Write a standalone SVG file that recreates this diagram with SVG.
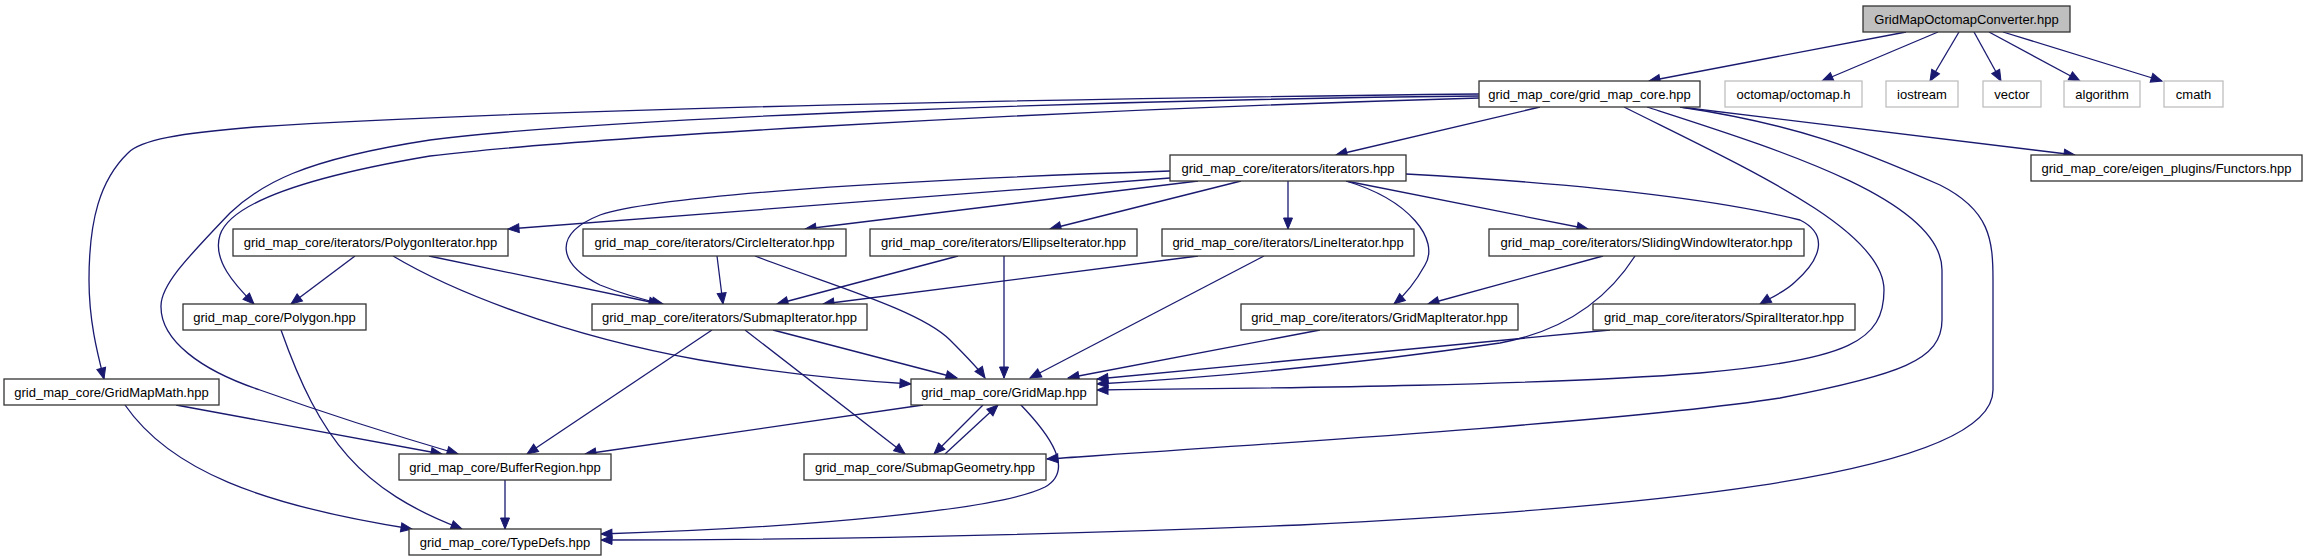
<svg xmlns="http://www.w3.org/2000/svg" width="2308" height="560" viewBox="0 0 2308 560">
<style>
.n rect{fill:#fff;stroke:#333;stroke-width:1.3}
.n.sys rect{stroke:#bfbfbf}
.n.root rect{fill:#bfbfbf}
.n text{font-family:"Liberation Sans",Arial,sans-serif;font-size:13px;fill:#000;text-anchor:middle}
#edges path{fill:none;stroke:#191970;stroke-width:1.3;marker-end:url(#ah)}
</style>
<defs>
<marker id="ah" markerUnits="userSpaceOnUse" markerWidth="12" markerHeight="10" refX="11" refY="4.5" orient="auto" overflow="visible">
<path d="M0,0 L11,4.5 L0,9 z" fill="#191970" stroke="#191970" stroke-width="1"/>
</marker>
</defs>
<rect width="2308" height="560" fill="#fff"/>
<g id="edges">
<path d="M1906,32 L1649,81"/>
<path d="M1938,32 L1822,81"/>
<path d="M1959,32 L1930,81"/>
<path d="M1974,32 L2001,81"/>
<path d="M1989,32 L2080,81"/>
<path d="M2003,32 L2162,81"/>
<path d="M1540,107 L1336,155"/>
<path d="M1680,107 L2075,155"/>
<path d="M1479,94 C1100,98 550,108 255,127 C180,133 140,140 128,153 C100,180 89,220 89,280 C89,320 97,352 104,379"/>
<path d="M1479,96 C1100,100 600,118 430,140 C300,160 260,185 230,213 C190,255 160,285 161,307 C161,340 200,370 260,390 C330,415 400,437 458,454"/>
<path d="M1479,98 C1000,112 560,140 430,156 C300,178 230,205 220,235 C212,260 235,285 254,304"/>
<path d="M1624,107 C1750,170 1884,230 1884,290 C1884,340 1850,360 1700,373 C1550,385 1300,388 1097,390"/>
<path d="M1647,107 C1780,150 1942,200 1942,270 L1942,320 C1942,360 1900,375 1780,398 C1640,420 1300,442 1047,459"/>
<path d="M1680,107 C1800,125 1860,150 1940,185 C1990,210 1993,240 1993,280 L1993,390 C1993,480 1600,510 1300,525 C1000,537 800,540 601,540"/>
<path d="M1170,178 L508,229"/>
<path d="M1198,181 L805,229"/>
<path d="M1241,181 L1050,229"/>
<path d="M1288,181 L1288,229"/>
<path d="M1346,181 L1588,229"/>
<path d="M1346,181 C1410,200 1440,240 1425,265 C1415,283 1405,295 1394,304"/>
<path d="M1406,174 C1550,182 1700,195 1800,220 C1830,235 1820,260 1795,282 C1785,292 1770,298 1760,304"/>
<path d="M1170,171 C900,180 660,195 600,215 C550,235 560,265 600,285 C620,293 640,299 663,304"/>
<path d="M355,256 L291,304"/>
<path d="M429,256 L660,304"/>
<path d="M393,256 C450,290 560,335 700,360 C790,375 860,381 911,384"/>
<path d="M717,256 L723,304"/>
<path d="M755,256 C830,285 920,310 950,340 C965,355 978,368 985,378"/>
<path d="M958,256 L777,304"/>
<path d="M1004,256 L1004,378"/>
<path d="M1198,256 L823,304"/>
<path d="M1264,256 L1030,378"/>
<path d="M1603,256 L1428,304"/>
<path d="M1320,330 L1068,378"/>
<path d="M1610,330 L1097,379"/>
<path d="M1635,256 C1610,295 1570,330 1500,343 C1350,365 1200,378 1097,384"/>
<path d="M773,330 L957,378"/>
<path d="M745,330 L905,454"/>
<path d="M712,330 L527,454"/>
<path d="M281,330 C320,440 360,490 462,529"/>
<path d="M125,405 C170,470 260,505 412,529"/>
<path d="M176,405 L442,454"/>
<path d="M923,405 L585,454"/>
<path d="M983,405 L934,454"/>
<path d="M945,454 L998,405"/>
<path d="M1020,404 C1050,435 1075,470 1045,487 C1000,510 800,528 601,534"/>
<path d="M505,480 L505,529"/>
</g>
<g id="n0" class="n root"><rect x="1863" y="6" width="207" height="26"/><text x="1966.5" y="23.5">GridMapOctomapConverter.hpp</text></g>
<g id="n1" class="n"><rect x="1479" y="81" width="221" height="26"/><text x="1589.5" y="98.5">grid_map_core/grid_map_core.hpp</text></g>
<g id="n2" class="n sys"><rect x="1725" y="81" width="137" height="26"/><text x="1793.5" y="98.5">octomap/octomap.h</text></g>
<g id="n3" class="n sys"><rect x="1886" y="81" width="72" height="26"/><text x="1922" y="98.5">iostream</text></g>
<g id="n4" class="n sys"><rect x="1983" y="81" width="58" height="26"/><text x="2012" y="98.5">vector</text></g>
<g id="n5" class="n sys"><rect x="2064" y="81" width="76" height="26"/><text x="2102" y="98.5">algorithm</text></g>
<g id="n6" class="n sys"><rect x="2164" y="81" width="59" height="26"/><text x="2193.5" y="98.5">cmath</text></g>
<g id="n7" class="n"><rect x="1170" y="155" width="236" height="26"/><text x="1288" y="172.5">grid_map_core/iterators/iterators.hpp</text></g>
<g id="n8" class="n"><rect x="2031" y="155" width="271" height="26"/><text x="2166.5" y="172.5">grid_map_core/eigen_plugins/Functors.hpp</text></g>
<g id="n9" class="n"><rect x="233" y="229" width="275" height="27"/><text x="370.5" y="247">grid_map_core/iterators/PolygonIterator.hpp</text></g>
<g id="n10" class="n"><rect x="583" y="229" width="263" height="27"/><text x="714.5" y="247">grid_map_core/iterators/CircleIterator.hpp</text></g>
<g id="n11" class="n"><rect x="870" y="229" width="267" height="27"/><text x="1003.5" y="247">grid_map_core/iterators/EllipseIterator.hpp</text></g>
<g id="n12" class="n"><rect x="1162" y="229" width="252" height="27"/><text x="1288" y="247">grid_map_core/iterators/LineIterator.hpp</text></g>
<g id="n13" class="n"><rect x="1489" y="229" width="315" height="27"/><text x="1646.5" y="247">grid_map_core/iterators/SlidingWindowIterator.hpp</text></g>
<g id="n14" class="n"><rect x="183" y="304" width="183" height="26"/><text x="274.5" y="321.5">grid_map_core/Polygon.hpp</text></g>
<g id="n15" class="n"><rect x="592" y="304" width="275" height="26"/><text x="729.5" y="321.5">grid_map_core/iterators/SubmapIterator.hpp</text></g>
<g id="n16" class="n"><rect x="1241" y="304" width="277" height="26"/><text x="1379.5" y="321.5">grid_map_core/iterators/GridMapIterator.hpp</text></g>
<g id="n17" class="n"><rect x="1593" y="304" width="262" height="26"/><text x="1724" y="321.5">grid_map_core/iterators/SpiralIterator.hpp</text></g>
<g id="n18" class="n"><rect x="4" y="379" width="215" height="26"/><text x="111.5" y="396.5">grid_map_core/GridMapMath.hpp</text></g>
<g id="n19" class="n"><rect x="911" y="379" width="186" height="26"/><text x="1004" y="396.5">grid_map_core/GridMap.hpp</text></g>
<g id="n20" class="n"><rect x="399" y="454" width="212" height="26"/><text x="505" y="471.5">grid_map_core/BufferRegion.hpp</text></g>
<g id="n21" class="n"><rect x="804" y="454" width="242" height="26"/><text x="925" y="471.5">grid_map_core/SubmapGeometry.hpp</text></g>
<g id="n22" class="n"><rect x="409" y="529" width="192" height="26"/><text x="505" y="546.5">grid_map_core/TypeDefs.hpp</text></g>
</svg>
